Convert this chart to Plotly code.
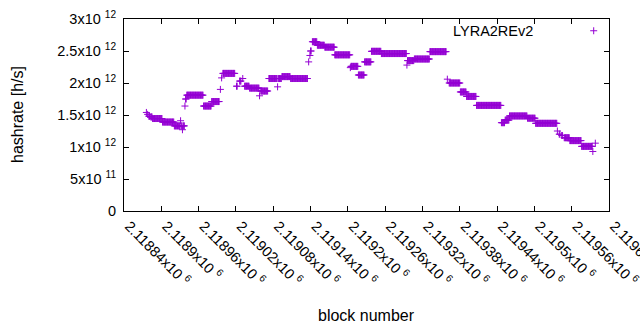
import plotly.graph_objects as go

# Run-length data: block ranges (inclusive) with the hashrate of each block in the range
seg_start = [2118876, 2118878, 2118880, 2118883, 2118886, 2118902, 2118921, 2118931, 2118932, 2118934,
             2118935, 2118938, 2118939, 2118941, 2118968, 2118981, 2118995, 2118997, 2118999, 2119021,
             2119026, 2119031, 2119034, 2119042, 2119058, 2119060, 2119073, 2119087, 2119088, 2119094,
             2119108, 2119137, 2119139, 2119140, 2119143, 2119151, 2119163, 2119179, 2119204, 2119205,
             2119217, 2119227, 2119238, 2119254, 2119295, 2119296, 2119307, 2119332, 2119360, 2119363,
             2119381, 2119391, 2119407, 2119447, 2119453, 2119460, 2119489, 2119502, 2119537, 2119540,
             2119544, 2119548, 2119557, 2119576, 2119594, 2119598]
seg_end = [2118876, 2118878, 2118881, 2118885, 2118901, 2118920, 2118930, 2118931, 2118933, 2118934,
           2118937, 2118938, 2118940, 2118967, 2118980, 2118993, 2118995, 2118997, 2119018, 2119022,
           2119028, 2119031, 2119041, 2119057, 2119058, 2119071, 2119086, 2119087, 2119093, 2119107,
           2119135, 2119137, 2119139, 2119141, 2119150, 2119162, 2119178, 2119203, 2119204, 2119216,
           2119226, 2119237, 2119253, 2119294, 2119295, 2119306, 2119331, 2119358, 2119360, 2119380,
           2119390, 2119406, 2119446, 2119452, 2119459, 2119488, 2119501, 2119536, 2119537, 2119541,
           2119545, 2119556, 2119575, 2119593, 2119594, 2119598]
seg_value = [1.54e12, 1.51e12, 1.48e12, 1.47e12, 1.445e12, 1.39e12, 1.33e12, 1.41e12, 1.33e12, 1.27e12,
             1.33e12, 1.64e12, 1.75e12, 1.81e12, 1.64e12, 1.71e12, 1.90e12, 2.08e12, 2.15e12, 1.95e12,
             2.03e12, 2.07e12, 1.95e12, 1.92e12, 1.80e12, 1.875e12, 2.07e12, 1.94e12, 2.07e12, 2.10e12,
             2.07e12, 2.33e12, 2.43e12, 2.50e12, 2.645e12, 2.59e12, 2.56e12, 2.44e12, 2.24e12, 2.26e12,
             2.125e12, 2.33e12, 2.495e12, 2.46e12, 2.28e12, 2.35e12, 2.375e12, 2.49e12, 2.06e12, 2.0e12,
             1.86e12, 1.79e12, 1.65e12, 1.38e12, 1.42e12, 1.485e12, 1.45e12, 1.37e12, 1.25e12, 1.20e12,
             1.18e12, 1.145e12, 1.10e12, 1.01e12, 0.93e12, 1.06e12]

x_tick_vals = [2118840, 2118900, 2118960, 2119020, 2119080, 2119140, 2119200,
               2119260, 2119320, 2119380, 2119440, 2119500, 2119560, 2119620]
x_tick_text = ["2.11884x10 <sup>6</sup>", "2.1189x10 <sup>6</sup>", "2.11896x10 <sup>6</sup>",
               "2.11902x10 <sup>6</sup>", "2.11908x10 <sup>6</sup>", "2.11914x10 <sup>6</sup>",
               "2.1192x10 <sup>6</sup>", "2.11926x10 <sup>6</sup>", "2.11932x10 <sup>6</sup>",
               "2.11938x10 <sup>6</sup>", "2.11944x10 <sup>6</sup>", "2.1195x10 <sup>6</sup>",
               "2.11956x10 <sup>6</sup>", "2.11962x10 <sup>6</sup>"]
y_tick_vals = [0, 5e11, 1e12, 1.5e12, 2e12, 2.5e12, 3e12]
y_tick_text = ["0", "5x10 <sup>11</sup>", "1x10 <sup>12</sup>", "1.5x10 <sup>12</sup>",
               "2x10 <sup>12</sup>", "2.5x10 <sup>12</sup>", "3x10 <sup>12</sup>"]

blocks, rates = [], []
for s, e, v in zip(seg_start, seg_end, seg_value):
    for b in range(s, e + 1):
        blocks.append(b)
        rates.append(v)

PURPLE = "#9400D3"
FONT = "Liberation Sans, Arial, sans-serif"

fig = go.Figure()
fig.add_trace(go.Scatter(
    x=blocks, y=rates, mode="markers", name="",
    marker=dict(symbol="cross-thin-open", size=5, color=PURPLE,
                line=dict(color=PURPLE, width=1)),
    showlegend=True,
))

axis_common = dict(showline=True, linecolor="black", linewidth=1, mirror="ticks",
                   ticks="inside", ticklen=5, tickcolor="black", showgrid=False,
                   zeroline=False, automargin=False,
                   tickfont=dict(family=FONT, size=14.5, color="black"))

fig.update_layout(
    width=640, height=330, autosize=False,
    margin=dict(l=124, r=31, t=19, b=119, autoexpand=False),
    paper_bgcolor="white", plot_bgcolor="white",
    font=dict(family=FONT, size=14, color="black"),
    xaxis=dict(range=[2118840, 2119620], tickmode="array", tickvals=x_tick_vals,
               ticktext=x_tick_text, tickangle=45, ticklabelshift=5,
               ticklabeloverflow="allow", **axis_common),
    yaxis=dict(range=[0, 3e12], tickmode="array", tickvals=y_tick_vals,
               ticktext=y_tick_text, ticklabelstandoff=4, **axis_common),
    legend=dict(x=1.02, y=1.02, xanchor="right", yanchor="top",
                bgcolor="rgba(0,0,0,0)", font=dict(size=14)),
    annotations=[
        dict(text="hashrate [h/s]", x=-0.2206, y=0.5, xref="paper", yref="paper",
             xanchor="center", yanchor="middle",
             textangle=-90, showarrow=False, font=dict(family=FONT, size=16)),
        dict(text="block number", x=0.5, y=-0.5417, xref="paper", yref="paper",
             xanchor="center", yanchor="middle",
             showarrow=False, font=dict(family=FONT, size=16)),
        dict(text="LYRA2REv2", x=0.847, y=0.9375, xref="paper", yref="paper",
             xanchor="right", yanchor="middle", showarrow=False,
             font=dict(family=FONT, size=14.5)),
    ],
)

fig.write_html("out.html", config={"displayModeBar": False},
               post_script="document.body.style.margin='0';document.body.style.overflow='hidden';")
